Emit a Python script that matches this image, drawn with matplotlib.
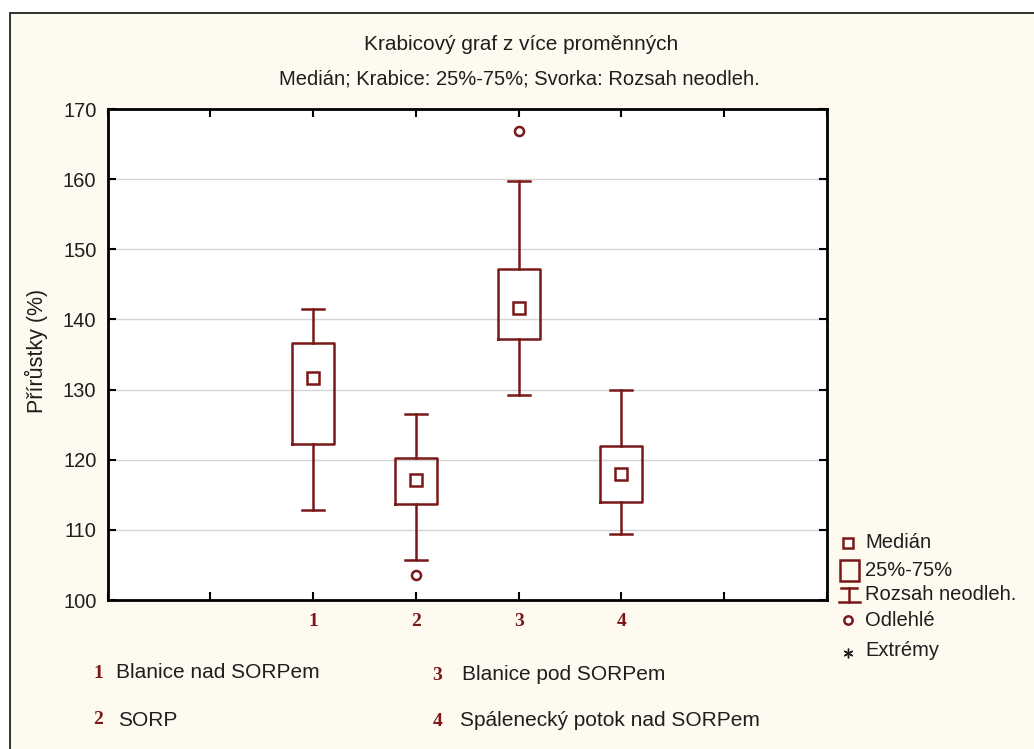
from matplotlib import pyplot as plt
from matplotlib.lines import Line2D
from matplotlib.patches import Rectangle

# =============================================================================
# Data
# =============================================================================
groups = ['Blanice nad SORPem', 'SORP', 'Blanice pod SORPem',
          'Spálenecký potok nad SORPem']
group_ids = ['1', '2', '3', '4']
positions = [2, 3, 4, 5]
medians = [131.7, 117.1, 141.6, 117.9]
q1 = [122.2, 113.7, 137.2, 114.0]
q3 = [136.7, 120.3, 147.2, 122.0]
whis_lo = [112.8, 105.7, 129.2, 109.4]
whis_hi = [141.5, 126.5, 159.8, 130.0]
outliers = [[], [103.6], [166.8], []]

legend_labels = ['Medián', '25%-75%', 'Rozsah neodleh.', 'Odlehlé', 'Extrémy']
title1 = 'Krabicový graf z více proměnných'
title2 = 'Medián; Krabice: 25%-75%; Svorka: Rozsah neodleh.'
ylabel = 'Přírůstky (%)'

W, H = 1034, 749
RED = '#781818'
TXT = '#1e1e1e'
SANS = 'Liberation Sans'
SERIF = 'Liberation Serif'
FS = 14.5


# pixel -> figure fraction
def fx(x):
    return x / W


def fy(y):
    return 1 - y / H


# =============================================================================
# Figure
# =============================================================================
fig = plt.figure(figsize=[W / 100, H / 100], dpi=100, facecolor='white')

# cream panel with a frame
fig.add_artist(Rectangle((fx(10), fy(760)), fx(1040), fy(13) - fy(760),
                         transform=fig.transFigure, facecolor='#fffaf0',
                         edgecolor='#222222', linewidth=1.3, zorder=0))

ax = fig.add_axes([fx(107.5), fy(600), fx(827) - fx(107.5), fy(109) - fy(600)])
ax.set_facecolor('white')

stats = []
for i in range(len(groups)):
    stats.append(dict(med=medians[i], q1=q1[i], q3=q3[i],
                      whislo=whis_lo[i], whishi=whis_hi[i],
                      fliers=outliers[i]))

lw = 1.8
ax.bxp(stats, positions=positions, widths=0.41, showfliers=True,
       boxprops=dict(color=RED, linewidth=lw),
       whiskerprops=dict(color=RED, linewidth=lw),
       capprops=dict(color=RED, linewidth=lw),
       medianprops=dict(linewidth=0),
       flierprops=dict(marker='o', markersize=6.5, markerfacecolor='white',
                       markeredgecolor=RED, markeredgewidth=1.8),
       capwidths=0.215, zorder=3)
ax.plot(positions, medians, linestyle='none', marker='s', markersize=8,
        markerfacecolor='white', markeredgecolor=RED, markeredgewidth=1.8,
        zorder=4)

ax.set_xlim(0, 7)
ax.set_ylim(100, 170)
ax.set_yticks(range(100, 171, 10))
ax.set_xticks(range(0, 8))
xlabels = [''] * 8
for p, g in zip(positions, group_ids):
    xlabels[p] = g
ax.set_xticklabels(xlabels, fontfamily=SERIF, fontweight='bold',
                   fontsize=14, color=RED)
for lab in ax.get_yticklabels():
    lab.set_fontfamily(SANS)
ax.tick_params(axis='y', labelsize=14.5, labelcolor=TXT, pad=8)
ax.tick_params(axis='x', pad=9)
ax.tick_params(direction='in', top=True, right=True, length=6, width=1.5,
               color='black')
ax.grid(axis='y', color='#d4d4d4', linewidth=1)
ax.set_axisbelow(True)
for s in ax.spines.values():
    s.set_linewidth(2)
    s.set_color('black')

# y label placed as figure text
fig.text(fx(36), fy(351), ylabel, rotation=90, ha='center', va='center',
         fontfamily=SANS, fontsize=15.5, color=TXT)

# titles
fig.text(fx(521), fy(44), title1, ha='center', va='center',
         fontfamily=SANS, fontsize=FS + 0.5, color=TXT)
fig.text(fx(519), fy(79), title2, ha='center', va='center',
         fontfamily=SANS, fontsize=FS, color=TXT)

# =============================================================================
# Right legend (symbols)
# =============================================================================
tf = fig.transFigure
fig.add_artist(Line2D([fx(848)], [fy(543)], transform=tf, marker='s',
                      markersize=6.5, markerfacecolor='white',
                      markeredgecolor=RED, markeredgewidth=1.8))
fig.add_artist(Rectangle((fx(840), fy(581)), fx(19), fy(560) - fy(581),
                         transform=tf, facecolor='none', edgecolor=RED,
                         linewidth=1.8))
fig.add_artist(Line2D([fx(849), fx(849)], [fy(588), fy(602)], transform=tf,
                      color=RED, linewidth=1.8))
fig.add_artist(Line2D([fx(841), fx(857)], [fy(588), fy(588)], transform=tf,
                      color=RED, linewidth=1.8))
fig.add_artist(Line2D([fx(839), fx(860)], [fy(602), fy(602)], transform=tf,
                      color=RED, linewidth=1.8))
fig.add_artist(Line2D([fx(848)], [fy(620)], transform=tf, marker='o',
                      markersize=6, markerfacecolor='white',
                      markeredgecolor=RED, markeredgewidth=1.8))
fig.add_artist(Line2D([fx(848)], [fy(653)], transform=tf, marker=(6, 2, 0),
                      markersize=7, markeredgecolor=TXT, markeredgewidth=1))
leg_y = [543, 570, 595, 620, 651]
for lab, yy in zip(legend_labels, leg_y):
    fig.text(fx(865), fy(yy), lab, ha='left', va='center',
             fontfamily=SANS, fontsize=FS, color=TXT)

# =============================================================================
# Bottom legend (group names)
# =============================================================================
name_pos = [(98, 116, 673), (98, 118, 720), (437, 462, 675), (438, 460, 721)]
for g, name, (xn, xt, yy) in zip(group_ids, groups, name_pos):
    fig.text(fx(xn), fy(yy), g, ha='center', va='center', fontfamily=SERIF,
             fontweight='bold', fontsize=14, color=RED)
    fig.text(fx(xt), fy(yy), name, ha='left', va='center',
             fontfamily=SANS, fontsize=15, color=TXT)

plt.savefig('out.png', dpi=100, facecolor=fig.get_facecolor())
